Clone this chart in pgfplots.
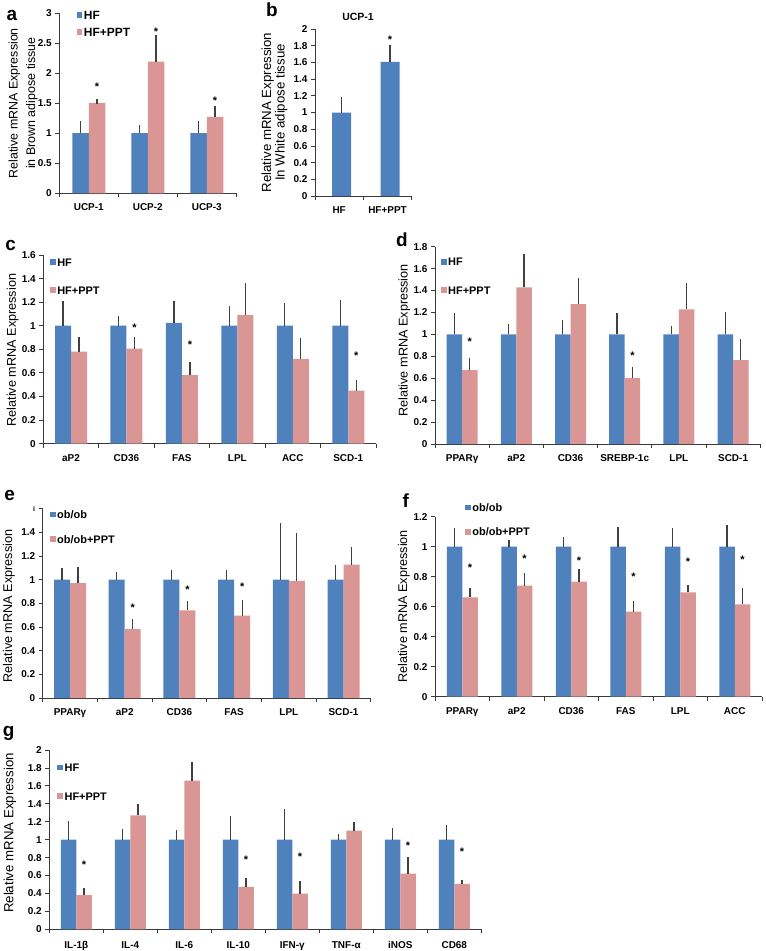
\documentclass[border=0pt]{standalone}
\usepackage{fontspec}
\setmainfont{Liberation Sans}
\usepackage{pgfplots}
\pgfplotsset{compat=1.18}

\definecolor{hfblue}{HTML}{4F81BD}
\definecolor{pptpink}{HTML}{D99694}
\definecolor{errgray}{HTML}{404040}
\definecolor{axgray}{HTML}{3A3A3A}

\newcommand{\tickfont}{\fontsize{10}{12}\selectfont\bfseries}

\pgfplotsset{
  panel/.style={
    scale only axis, anchor=south west, clip=false,
    ybar=0pt, ymin=0,
    axis lines*=left,
    axis line style={line width=0.8bp, axgray},
    tick align=outside, tick pos=left,
    major tick length=4bp,
    tick style={line width=0.8bp, axgray},
    xticklabels={},
    extra x tick style={major tick length=0pt},
    x tick label style={font=\tickfont, anchor=base, yshift=-17.5bp},
    y tick label style={font=\tickfont},
    /pgf/number format/assume math mode=true,
    ylabel style={font=\fontsize{12.7}{13.5}\selectfont, anchor=center, align=center},
    legend style={draw=none, fill=none, anchor=north west, inner sep=0pt,
      font=\fontsize{11}{13}\selectfont\bfseries,
      nodes={inner sep=1.5bp, text height=8bp, text depth=0bp}},
    legend cell align=left,
  },
  sq/.style={legend image code/.code={\fill[##1] (0bp,-2.8bp) rectangle (5.6bp,2.8bp);}},
  errs/.style={error bars/y dir=plus, error bars/y explicit,
    error bars/error bar style={line width=1.2bp, errgray},
    error bars/error mark options={line width=1.2bp, errgray, mark size=2.4bp}},
  hf/.style={fill=hfblue, draw=none, sq, errs},
  ppt/.style={fill=pptpink, draw=none, sq, errs},
}
\tikzset{
  star/.style={font=\fontsize{11}{11}\selectfont\bfseries, yshift=-2bp, inner sep=0pt},
  letter/.style={font=\fontsize{19}{19}\selectfont\bfseries, anchor=base west, inner sep=0pt},
}

\begin{document}
\begin{tikzpicture}
\path[use as bounding box] (0,0) rectangle (766bp,-951bp);

% panel letters
\node[letter] at (6.5bp,-20.7bp) {a};
\node[letter] at (266bp,-16.7bp) {b};
\node[letter] at (5.2bp,-250bp) {c};
\node[letter] at (396bp,-246.7bp) {d};
\node[letter] at (4.3bp,-500bp) {e};
\node[letter] at (402.5bp,-507bp) {f};
\node[letter] at (2.6bp,-736.7bp) {g};

% a
\begin{axis}[panel, at={(59.3bp,-193.3bp)}, width=177bp, height=180.3bp,
  bar width=16.5bp, xmin=-0.5, xmax=2.5, ymax=3,
  ytick={0,0.5,1,1.5,2,2.5,3},
  xtick={-0.5,0.5,1.5,2.5},
  extra x ticks={0,1,2}, extra x tick labels={UCP-1,UCP-2,UCP-3},
  ylabel={Relative mRNA Expression\\in Brown adipose tissue},
  ylabel style={at={(axis description cs:-0.204,0.5)}, font=\fontsize{12.5}{17.5}\selectfont},
  legend style={at={(axis description cs:0.098,1.019)}, row sep=6bp, font=\fontsize{12}{13}\selectfont\bfseries}]
\addplot[hf] coordinates {(0,1) +- (0,0.16) (1,1) +- (0,0.096) (2,1) +- (0,0.162)};
\addlegendentry{HF}
\addplot[ppt] coordinates {(0,1.505) +- (0,0.023) (1,2.19) +- (0,0.41) (2,1.273) +- (0,0.137)};
\addlegendentry{HF+PPT}
\node[star,xshift=8.25bp] at (axis cs:0,1.81) {*};
\node[star,xshift=8.25bp] at (axis cs:1,2.72) {*};
\node[star,xshift=8.25bp] at (axis cs:2,1.57) {*};
\end{axis}

% b
\begin{axis}[panel, at={(315bp,-196bp)}, width=96.7bp, height=167bp,
  bar width=19bp, bar shift=2.5bp, xmin=-0.5, xmax=1.5, ymax=2,
  ytick={0,0.2,0.4,0.6,0.8,1,1.2,1.4,1.6,1.8,2},
  xtick={-0.5,0.5,1.5},
  extra x ticks={0,1}, extra x tick labels={HF,HF+PPT},
  title={UCP-1},
  title style={at={(axis description cs:0.445,1.035)}, anchor=center, font=\fontsize{10.5}{12}\selectfont\bfseries},
  ylabel={Relative mRNA Expression\\In White adipose tissue},
  ylabel style={at={(axis description cs:-0.419,0.5)}, font=\fontsize{13.3}{13.5}\selectfont}]
\addplot[hf] coordinates {(0,1) +- (0,0.152) (1,1.605) +- (0,0.171)};
\node[star,xshift=2.5bp] at (axis cs:1,1.9) {*};
\end{axis}

% c
\begin{axis}[panel, at={(43.3bp,-443.6bp)}, width=332.7bp, height=188.6bp,
  bar width=16bp, xmin=-0.5, xmax=5.5, ymax=1.6,
  ytick={0,0.2,0.4,0.6,0.8,1,1.2,1.4,1.6},
  xtick={-0.5,0.5,1.5,2.5,3.5,4.5,5.5},
  extra x ticks={0,1,2,3,4,5}, extra x tick labels={aP2,CD36,FAS,LPL,ACC,SCD-1},
  ylabel={Relative mRNA Expression},
  ylabel style={at={(axis description cs:-0.0926,0.496)}},
  legend style={at={(axis description cs:0.02,0.992)}, row sep=17bp}]
\addplot[hf] coordinates {(0,1) +- (0,0.19) (1,1) +- (0,0.06) (2,1.025) +- (0,0.165)
  (3,1) +- (0,0.147) (4,1) +- (0,0.17) (5,1) +- (0,0.2)};
\addlegendentry{HF}
\addplot[ppt] coordinates {(0,0.78) +- (0,0.107) (1,0.805) +- (0,0.082) (2,0.58) +- (0,0.09)
  (3,1.09) +- (0,0.25) (4,0.717) +- (0,0.161) (5,0.45) +- (0,0.07)};
\addlegendentry{HF+PPT}
\node[star,xshift=8bp] at (axis cs:1,1.0) {*};
\node[star,xshift=8bp] at (axis cs:2,0.86) {*};
\node[star,xshift=8bp] at (axis cs:5,0.76) {*};
\end{axis}

% d
\begin{axis}[panel, at={(435bp,-444bp)}, width=325.2bp, height=197.3bp,
  bar width=15.5bp, xmin=-0.5, xmax=5.5, ymax=1.8,
  ytick={0,0.2,0.4,0.6,0.8,1,1.2,1.4,1.6,1.8},
  xtick={-0.5,0.5,1.5,2.5,3.5,4.5,5.5},
  extra x ticks={0,1,2,3,4,5}, extra x tick labels={PPARγ,aP2,CD36,SREBP-1c,LPL,SCD-1},
  ylabel={Relative mRNA Expression},
  ylabel style={at={(axis description cs:-0.094,0.525)}},
  legend style={at={(axis description cs:0.018,0.952)}, row sep=17.3bp}]
\addplot[hf] coordinates {(0,1) +- (0,0.17) (1,1) +- (0,0.076) (2,1) +- (0,0.11)
  (3,1) +- (0,0.17) (4,1) +- (0,0.058) (5,1) +- (0,0.18)};
\addlegendentry{HF}
\addplot[ppt] coordinates {(0,0.675) +- (0,0.091) (1,1.43) +- (0,0.28) (2,1.277) +- (0,0.213)
  (3,0.60) +- (0,0.08) (4,1.228) +- (0,0.219) (5,0.766) +- (0,0.17)};
\addlegendentry{HF+PPT}
\node[star,xshift=7.75bp] at (axis cs:0,0.954) {*};
\node[star,xshift=7.75bp] at (axis cs:3,0.82) {*};
\end{axis}

% e
\begin{axis}[panel, at={(42.7bp,-698bp)}, width=328.2bp, height=189.3bp,
  bar width=16bp, xmin=-0.5, xmax=5.5, ymax=1.6,
  ytick={0,0.2,0.4,0.6,0.8,1,1.2,1.4,1.6},
  yticklabels={0,0.2,0.4,0.6,0.8,1,1.2,1.4,{\fontsize{7}{7}\selectfont i}},
  xtick={-0.5,0.5,1.5,2.5,3.5,4.5,5.5},
  extra x ticks={0,1,2,3,4,5}, extra x tick labels={PPARγ,aP2,CD36,FAS,LPL,SCD-1},
  ylabel={Relative mRNA Expression},
  ylabel style={at={(axis description cs:-0.103,0.486)}},
  legend style={at={(axis description cs:0.022,0.9995)}, row sep=13.7bp}]
\addplot[hf] coordinates {(0,1) +- (0,0.08) (1,1) +- (0,0.048) (2,1) +- (0,0.062)
  (3,1) +- (0,0.062) (4,1) +- (0,0.46) (5,1) +- (0,0.107)};
\addlegendentry{ob/ob}
\addplot[ppt] coordinates {(0,0.97) +- (0,0.12) (1,0.583) +- (0,0.065) (2,0.74) +- (0,0.06)
  (3,0.696) +- (0,0.11) (4,0.99) +- (0,0.385) (5,1.127) +- (0,0.129)};
\addlegendentry{ob/ob+PPT}
\node[star,xshift=8bp] at (axis cs:1,0.78) {*};
\node[star,xshift=8bp] at (axis cs:2,0.935) {*};
\node[star,xshift=8bp] at (axis cs:3,0.958) {*};
\end{axis}

% f
\begin{axis}[panel, at={(435bp,-696.7bp)}, width=327bp, height=180bp,
  bar width=15.5bp, xmin=-0.5, xmax=5.5, ymax=1.2,
  ytick={0,0.2,0.4,0.6,0.8,1,1.2},
  xtick={-0.5,0.5,1.5,2.5,3.5,4.5,5.5},
  extra x ticks={0,1,2,3,4,5}, extra x tick labels={PPARγ,aP2,CD36,FAS,LPL,ACC},
  ylabel={Relative mRNA Expression},
  ylabel style={at={(axis description cs:-0.095,0.502)}},
  legend style={at={(axis description cs:0.092,1.083)}, row sep=13.4bp}]
\addplot[hf] coordinates {(0,1) +- (0,0.11) (1,1) +- (0,0.029) (2,1) +- (0,0.047)
  (3,1) +- (0,0.116) (4,1) +- (0,0.109) (5,1) +- (0,0.129)};
\addlegendentry{ob/ob}
\addplot[ppt] coordinates {(0,0.662) +- (0,0.049) (1,0.74) +- (0,0.07) (2,0.767) +- (0,0.066)
  (3,0.567) +- (0,0.055) (4,0.696) +- (0,0.031) (5,0.616) +- (0,0.095)};
\addlegendentry{ob/ob+PPT}
\node[star,xshift=7.75bp] at (axis cs:0,0.873) {*};
\node[star,xshift=7.75bp] at (axis cs:1,0.933) {*};
\node[star,xshift=7.75bp] at (axis cs:2,0.92) {*};
\node[star,xshift=7.75bp] at (axis cs:3,0.816) {*};
\node[star,xshift=7.75bp] at (axis cs:4,0.916) {*};
\node[star,xshift=7.75bp] at (axis cs:5,0.929) {*};
\end{axis}

% g
\begin{axis}[panel, at={(49.3bp,-929.3bp)}, width=432bp, height=179.3bp,
  bar width=15.5bp, xmin=-0.5, xmax=7.5, ymax=2,
  ytick={0,0.2,0.4,0.6,0.8,1,1.2,1.4,1.6,1.8,2},
  xtick={-0.5,0.5,1.5,2.5,3.5,4.5,5.5,6.5,7.5},
  extra x ticks={0,1,2,3,4,5,6,7},
  extra x tick labels={IL-1β,IL-4,IL-6,IL-10,IFN-γ,TNF-α,iNOS,CD68},
  x tick label style={yshift=-2bp},
  ylabel={Relative mRNA Expression},
  ylabel style={at={(axis description cs:-0.091,0.537)}, font=\fontsize{13.3}{14}\selectfont},
  legend style={at={(axis description cs:0.0185,0.934)}, row sep=17.7bp}]
\addplot[hf] coordinates {(0,1) +- (0,0.18) (1,1) +- (0,0.097) (2,1) +- (0,0.08)
  (3,1) +- (0,0.234) (4,1) +- (0,0.31) (5,1) +- (0,0.037) (6,1) +- (0,0.104) (7,1) +- (0,0.138)};
\addlegendentry{HF}
\addplot[ppt] coordinates {(0,0.38) +- (0,0.05) (1,1.27) +- (0,0.098) (2,1.658) +- (0,0.178)
  (3,0.472) +- (0,0.074) (4,0.398) +- (0,0.115) (5,1.10) +- (0,0.07) (6,0.62) +- (0,0.16) (7,0.506) +- (0,0.022)};
\addlegendentry{HF+PPT}
\node[star,xshift=7.75bp] at (axis cs:0,0.74) {*};
\node[star,xshift=7.75bp] at (axis cs:3,0.80) {*};
\node[star,xshift=7.75bp] at (axis cs:4,0.836) {*};
\node[star,xshift=7.75bp] at (axis cs:6,0.96) {*};
\node[star,xshift=7.75bp] at (axis cs:7,0.885) {*};
\end{axis}
\end{tikzpicture}
\end{document}
